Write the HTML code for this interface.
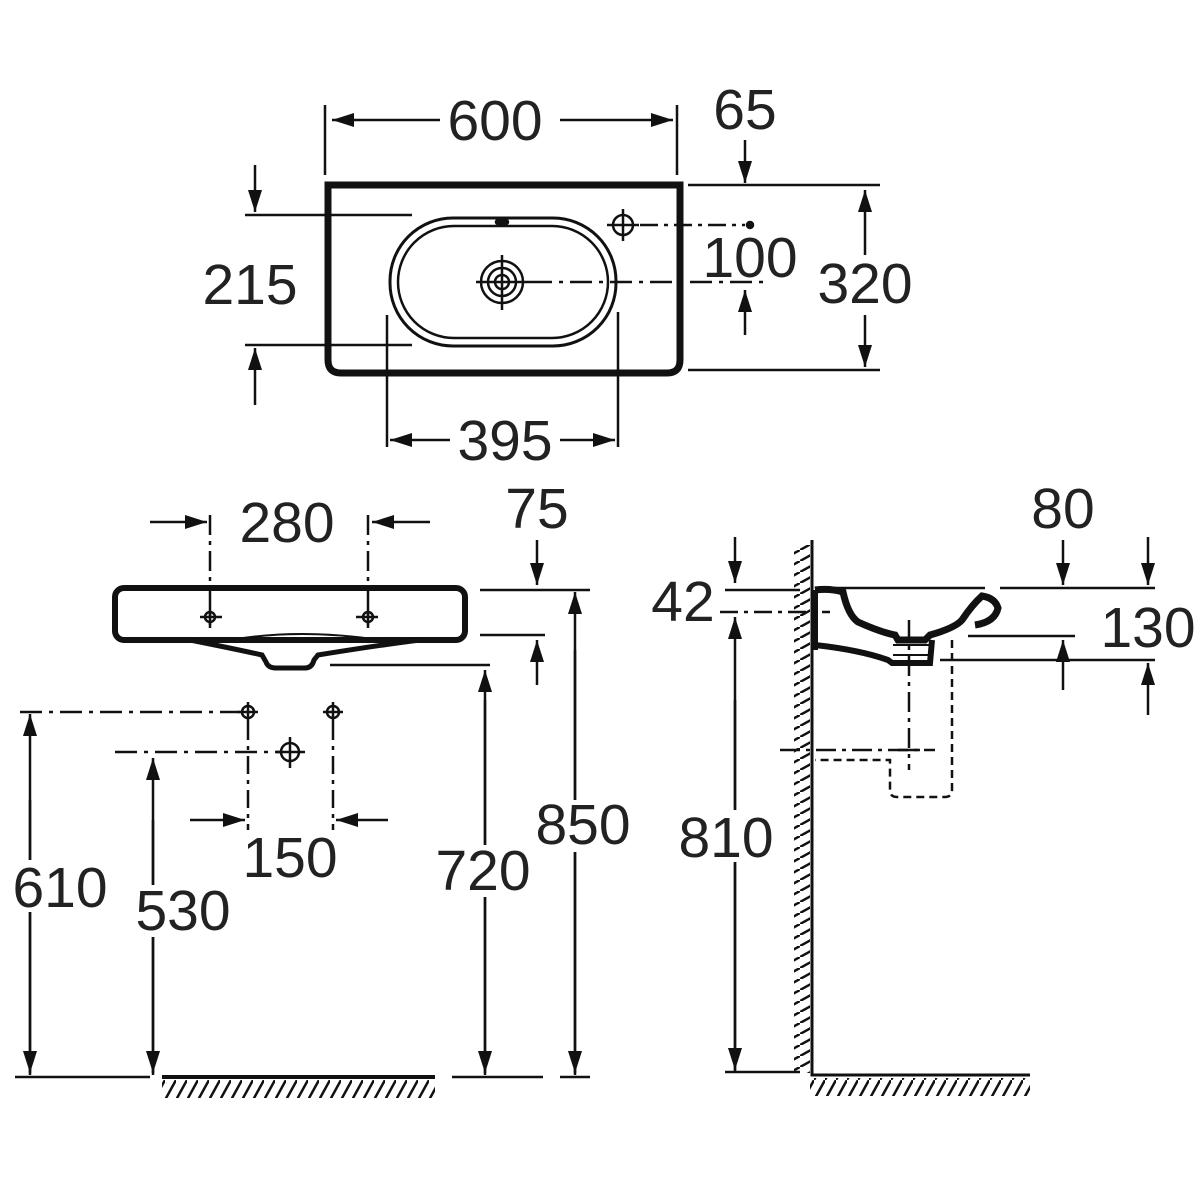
<!DOCTYPE html>
<html><head><meta charset="utf-8"><style>html,body{margin:0;padding:0;background:#fff}svg{display:block}</style></head><body>
<svg width="1200" height="1200" viewBox="0 0 1200 1200" xmlns="http://www.w3.org/2000/svg">
<defs>
<marker id="a" viewBox="0 0 22 14" refX="22" refY="7" markerWidth="22" markerHeight="14" markerUnits="userSpaceOnUse" orient="auto"><path d="M0,0 L22,7 L0,14 Z" fill="#111"/></marker>
<pattern id="h" width="11" height="20" patternUnits="userSpaceOnUse"><line x1="0" y1="20" x2="11" y2="0" stroke="#111" stroke-width="2.5"/></pattern>
<pattern id="hv" width="20" height="11" patternUnits="userSpaceOnUse"><line x1="0" y1="11" x2="20" y2="0" stroke="#111" stroke-width="2.5"/></pattern>
</defs>
<g fill="none" stroke="#111" stroke-width="2.5">
<!-- TOP VIEW -->
<path d="M328,185 H680 V360 Q680,373 667,373 H341 Q328,373 328,360 Z" stroke-width="7"/>
<rect x="390" y="218" width="226" height="128" rx="63" stroke-width="3"/>
<rect x="398" y="226" width="210" height="112" rx="56" stroke-width="2.5"/>
<ellipse cx="502" cy="222" rx="6" ry="3" fill="#111"/>
<circle cx="502" cy="282" r="21"/><circle cx="502" cy="282" r="14"/><circle cx="502" cy="282" r="7"/>
<path d="M476,282 H530 M502,255 V310"/>
<circle cx="623" cy="225" r="10"/><path d="M607,225 H639 M623,209 V241"/>
<path d="M640,225 H745" stroke-dasharray="18,6,4,6"/><circle cx="750" cy="225" r="3" fill="#111"/>
<path d="M530,282 H765" stroke-dasharray="22,7,4,7"/>
<path d="M325,105 V175 M677,105 V175"/>
<path d="M440,120 H332" marker-end="url(#a)"/><path d="M560,120 H673" marker-end="url(#a)"/>
<path d="M745,140 V183" marker-end="url(#a)"/>
<path d="M688,185 H880 M688,370 H880"/>
<path d="M745,335 V290" marker-end="url(#a)"/>
<path d="M865,255 V190" marker-end="url(#a)"/><path d="M865,315 V367" marker-end="url(#a)"/>
<path d="M245,215 H412 M245,345 H412"/>
<path d="M255,165 V212" marker-end="url(#a)"/><path d="M255,405 V348" marker-end="url(#a)"/>
<path d="M387,315 V447 M618,312 V447"/>
<path d="M450,440 H390" marker-end="url(#a)"/><path d="M560,440 H615" marker-end="url(#a)"/>
<!-- FRONT VIEW -->
<rect x="115" y="588" width="350" height="52" rx="9" stroke-width="6"/>
<path d="M190,640 Q240,650 262,655 L266,662 Q268,668 276,668 H305 Q312,668 314,660 L318,655 Q380,645 420,640" stroke-width="5"/>
<path d="M230,640 Q300,628 380,640" stroke-width="2"/>
<path d="M210,515 V625 M368,515 V625" stroke-dasharray="20,6,4,6"/>
<circle cx="210" cy="617" r="5"/><path d="M200,617 H222 M210,607 V628"/>
<circle cx="368" cy="617" r="5"/><path d="M356,617 H378 M368,607 V628"/>
<path d="M150,522 H207" marker-end="url(#a)"/><path d="M430,522 H372" marker-end="url(#a)"/>
<path d="M537,540 V585" marker-end="url(#a)"/>
<path d="M480,590 H590 M480,635 H545"/>
<path d="M537,685 V640" marker-end="url(#a)"/>
<path d="M330,665 H490"/>
<path d="M485,1075 V670" marker-end="url(#a)"/><path d="M485,700 V1073" marker-end="url(#a)"/>
<path d="M575,1075 V592" marker-end="url(#a)"/><path d="M575,650 V1073" marker-end="url(#a)"/>
<path d="M20,712 H240" stroke-dasharray="22,7,4,7"/>
<path d="M115,752 H282" stroke-dasharray="22,7,4,7"/>
<circle cx="248" cy="712" r="6"/><path d="M238,712 H258 M248,702 V722"/>
<circle cx="333" cy="712" r="6"/><path d="M323,712 H343 M333,702 V722"/>
<circle cx="290" cy="752" r="9"/><path d="M276,752 H305 M290,737 V768"/>
<path d="M248,722 V830 M333,722 V830" stroke-dasharray="18,6,4,6"/>
<path d="M190,820 H245" marker-end="url(#a)"/><path d="M388,820 H336" marker-end="url(#a)"/>
<path d="M30,1075 V714" marker-end="url(#a)"/><path d="M30,800 V1073" marker-end="url(#a)"/>
<path d="M153,1075 V758" marker-end="url(#a)"/><path d="M153,820 V1073" marker-end="url(#a)"/>
<path d="M15,1077 H150 M452,1077 H543 M560,1077 H590"/>
<path d="M162,1077 H435" stroke-width="4"/>
<!-- SIDE VIEW -->
<path d="M812,540 V1075 H1030" stroke-width="3"/>
<path d="M815,588 H985" stroke-width="2.5"/>
<path d="M815,590 Q830,588 843,592 Q848,615 858,622 Q880,632 895,635 L898,640 H925 L930,635 Q955,628 962,620 Q972,605 982,596 Q995,598 998,608 Q995,622 975,625" stroke-width="7"/>
<path d="M815,645 Q860,650 888,660 L892,663 H930 L932,640" stroke-width="6"/>
<path d="M815,590 V650" stroke-width="6"/>
<path d="M893,645 H930 M893,655 H930" stroke-width="2"/>
<path d="M909,620 V770" stroke-dasharray="20,6,4,6"/>
<path d="M780,750 H935" stroke-dasharray="20,6,4,6"/><path d="M898,750 H920"/>
<path d="M720,612 H830" stroke-dasharray="18,6,4,6"/>
<path d="M952,640 V790 Q952,797 945,797 H897 Q890,797 890,790 V760 H815" stroke-dasharray="8,5"/>
<path d="M735,537 V583" marker-end="url(#a)"/>
<path d="M725,590 H800"/>
<path d="M735,1072 V617" marker-end="url(#a)"/><path d="M735,700 V1070" marker-end="url(#a)"/>
<path d="M725,1072 H800"/>
<path d="M1063,540 V585" marker-end="url(#a)"/><path d="M1148,537 V585" marker-end="url(#a)"/>
<path d="M1000,588 H1155 M968,636 H1075 M940,660 H1155"/>
<path d="M1063,690 V640" marker-end="url(#a)"/><path d="M1148,715 V663" marker-end="url(#a)"/>
</g>
<rect x="162" y="1080" width="273" height="18" fill="url(#h)"/>
<rect x="810" y="1078" width="220" height="18" fill="url(#h)"/>
<rect x="794" y="545" width="16" height="528" fill="url(#hv)"/>
<g font-family="Liberation Sans, sans-serif" font-size="57" fill="#222" text-anchor="middle">
<text x="495" y="140">600</text>
<text x="745" y="129">65</text>
<text x="750" y="277">100</text>
<rect x="812" y="255" width="106" height="52" fill="#fff"/>
<text x="865" y="303">320</text>
<text x="250" y="304">215</text>
<text x="505" y="460">395</text>
<text x="287" y="542">280</text>
<text x="537" y="528">75</text>
<text x="290" y="877">150</text>
<rect x="15" y="860" width="95" height="52" fill="#fff"/>
<text x="60" y="907">610</text>
<rect x="130" y="885" width="108" height="52" fill="#fff"/>
<text x="183" y="930">530</text>
<rect x="430" y="845" width="106" height="52" fill="#fff"/>
<text x="483" y="890">720</text>
<rect x="528" y="800" width="110" height="52" fill="#fff"/>
<text x="583" y="844">850</text>
<text x="683" y="621">42</text>
<rect x="672" y="810" width="106" height="52" fill="#fff"/>
<text x="726" y="857">810</text>
<text x="1063" y="528">80</text>
<rect x="1097" y="605" width="103" height="52" fill="#fff"/>
<text x="1148" y="647">130</text>
</g>
</svg>
</body></html>
